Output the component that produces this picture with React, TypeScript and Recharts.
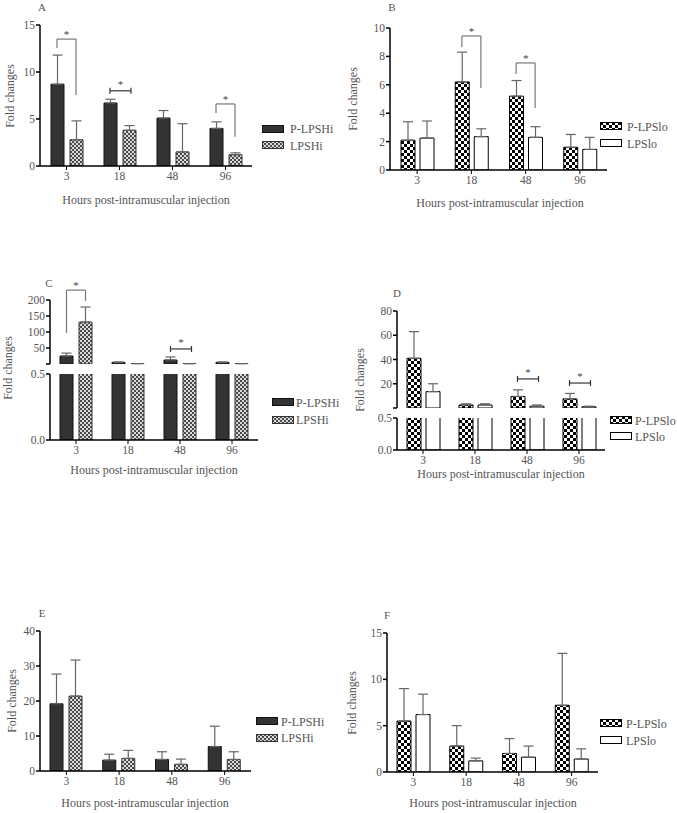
import React from 'react';
import { BarChart, Bar, XAxis, YAxis, ErrorBar, ReferenceLine } from 'recharts';

const hours = ['3', '18', '48', '96'];
const hiNames = ['P-LPSHi', 'LPSHi'];
const loNames = ['P-LPSlo', 'LPSlo'];

// A
const aP = [8.7, 6.7, 5.1, 4.0];
const aPSd = [3.1, 0.4, 0.8, 0.7];
const aL = [2.8, 3.8, 1.5, 1.2];
const aLSd = [2.0, 0.5, 3.0, 0.2];
const aTicks = [0, 5, 10, 15];

// B
const bP = [2.1, 6.2, 5.2, 1.6];
const bPSd = [1.3, 2.1, 1.1, 0.9];
const bL = [2.25, 2.35, 2.3, 1.45];
const bLSd = [1.2, 0.55, 0.75, 0.85];
const bTicks = [0, 2, 4, 6, 8, 10];

// C
const cP = [25, 5, 12.5, 5];
const cPSd = [9, 1.5, 9.5, 1.5];
const cL = [131, 1, 1, 1];
const cLSd = [47, 0.3, 0.3, 0.3];
const cTopTicks = [0, 50, 100, 150, 200];
const lowTicks = [0, 0.5];

// D
const dP = [41, 2.5, 9.5, 7.5];
const dPSd = [22, 1, 5.5, 4.5];
const dL = [13.5, 2.5, 1.5, 1];
const dLSd = [6.5, 1, 1, 0.5];
const dTopTicks = [0, 20, 40, 60, 80];

// E
const eP = [19.2, 3.1, 3.3, 7.0];
const ePSd = [8.5, 1.7, 2.2, 5.8];
const eL = [21.4, 3.6, 1.9, 3.3];
const eLSd = [10.3, 2.3, 1.5, 2.2];
const eTicks = [0, 10, 20, 30, 40];

// F
const fP = [5.5, 2.8, 2.0, 7.2];
const fPSd = [3.5, 2.2, 1.6, 5.6];
const fL = [6.2, 1.2, 1.6, 1.4];
const fLSd = [2.2, 0.3, 1.2, 1.1];
const fTicks = [0, 5, 10, 15];

// significance marks: category index, kind, bracket top, left leg end, right leg end
type Mark = { cat: number; kind: 'bracket' | 'cap'; top: number; left?: number; right?: number };
const aMarks: Mark[] = [
  { cat: 0, kind: 'bracket', top: 13.5, left: 12.55, right: 7.55 },
  { cat: 1, kind: 'cap', top: 8.0 },
  { cat: 3, kind: 'bracket', top: 6.6, left: 5.64, right: 3.1 },
];
const bMarks: Mark[] = [
  { cat: 1, kind: 'bracket', top: 9.44, left: 8.66, right: 5.77 },
  { cat: 2, kind: 'bracket', top: 7.54, left: 6.76, right: 4.37 },
];
const cMarks: Mark[] = [
  { cat: 0, kind: 'bracket', top: 231, left: 97, right: 197 },
  { cat: 2, kind: 'cap', top: 47 },
];
const dMarks: Mark[] = [
  { cat: 2, kind: 'cap', top: 24 },
  { cat: 3, kind: 'cap', top: 20.6 },
];

const FONT = '"Liberation Serif", "DejaVu Serif", serif';
const TEXT = '#555';

const STYLES: any = {
  hi: {
    p: { fill: '#333', stroke: '#111' },
    l: { fill: 'url(#patHi)', stroke: '#333' },
    names: hiNames,
    barSize: 13,
    gap: 6,
  },
  lo: {
    p: { fill: 'url(#patLo)', stroke: '#000' },
    l: { fill: '#fff', stroke: '#000' },
    names: loNames,
    barSize: 14,
    gap: 5,
  },
};

const makeRows = (p: number[], pSd: number[], l: number[], lSd: number[]) =>
  hours.map((_, i) => ({ x: i, p: p[i], pErr: [0, pSd[i]], l: l[i], lErr: [0, lSd[i]] }));

const Star = ({ x, y }: { x: number; y: number }) => (
  <text x={x} y={y - 1} textAnchor="middle" fontSize={11} fill="#444" fontFamily={FONT}>
    *
  </text>
);

const CapLine = (props: any) => {
  const { x1, y1, x2, y2 } = props;
  return (
    <g>
      <g stroke="#333" strokeWidth={1.2}>
        <line x1={x1} y1={y1} x2={x2} y2={y2} />
        <line x1={x1} y1={y1 - 3} x2={x1} y2={y1 + 3} />
        <line x1={x2} y1={y2 - 3} x2={x2} y2={y2 + 3} />
      </g>
      <Star x={(x1 + x2) / 2} y={Math.min(y1, y2) - 2} />
    </g>
  );
};

const TopLine = (props: any) => {
  const { x1, y1, x2, y2 } = props;
  return (
    <g>
      <line x1={x1} y1={y1} x2={x2} y2={y2} stroke="#777" strokeWidth={1.2} />
      <Star x={(x1 + x2) / 2} y={Math.min(y1, y2)} />
    </g>
  );
};

function Segment(props: any) {
  const { x0, x1, y0, y1, domain, ticks, fmt, rows, kind, showX, showErr, marks } = props;
  const padL = 40;
  const padT = 40;
  const padR = 6;
  const xh = showX ? 30 : 0;
  const padB = showX ? 0 : 2;
  const w = x1 - x0 + padL + padR;
  const h = padT + (y1 - y0) + xh + padB;
  const st = STYLES[kind];
  const unit = (x1 - x0) / 4;
  const off = (st.barSize + st.gap) / 2 / unit;
  const axisStyle = { stroke: '#000', strokeWidth: 1.5 };
  const tickStyle = { fontSize: 11.5, fill: TEXT, fontFamily: FONT };

  const lines = (marks || []).flatMap((m: Mark, i: number) => {
    const xl = m.cat - off;
    const xr = m.cat + off;
    if (m.kind === 'cap') {
      return [
        <ReferenceLine
          key={`c${i}`}
          segment={[{ x: xl, y: m.top }, { x: xr + 2 / unit, y: m.top }]}
          ifOverflow="visible"
          stroke="#333"
          shape={CapLine}
        />,
      ];
    }
    return [
      <ReferenceLine key={`t${i}`} segment={[{ x: xl, y: m.top }, { x: xr, y: m.top }]} ifOverflow="visible" stroke="#777" shape={TopLine} />,
      <ReferenceLine key={`l${i}`} segment={[{ x: xl, y: m.top }, { x: xl, y: m.left }]} ifOverflow="visible" stroke="#777" strokeWidth={1.2} />,
      <ReferenceLine key={`r${i}`} segment={[{ x: xr, y: m.top }, { x: xr, y: m.right }]} ifOverflow="visible" stroke="#777" strokeWidth={1.2} />,
    ];
  });

  return (
    <div style={{ position: 'absolute', left: x0 - padL, top: y0 - padT }}>
      <BarChart
        width={w}
        height={h}
        data={rows}
        margin={{ top: padT, right: padR, left: 0, bottom: padB }}
        barGap={st.gap}
        barSize={st.barSize}
      >
        <XAxis
          type="number"
          dataKey="x"
          domain={[-0.5, 3.5]}
          ticks={[0, 1, 2, 3]}
          interval={0}
          tickFormatter={(v: number) => hours[v]}
          hide={!showX}
          height={xh}
          axisLine={axisStyle}
          tickLine={{ stroke: '#000' }}
          tickSize={4}
          tick={tickStyle}
        />
        <YAxis
          domain={domain}
          ticks={ticks}
          interval={0}
          allowDataOverflow
          tickFormatter={fmt}
          width={padL}
          axisLine={axisStyle}
          tickLine={{ stroke: '#000', strokeWidth: 1.5 }}
          tickSize={4}
          tickMargin={1}
          tick={tickStyle}
        />
        <Bar dataKey="p" fill={st.p.fill} stroke={st.p.stroke} strokeWidth={1} isAnimationActive={false}>
          {showErr && <ErrorBar dataKey="pErr" width={5} stroke="#666" strokeWidth={1.2} />}
        </Bar>
        <Bar dataKey="l" fill={st.l.fill} stroke={st.l.stroke} strokeWidth={1} isAnimationActive={false}>
          {showErr && <ErrorBar dataKey="lErr" width={5} stroke="#666" strokeWidth={1.2} />}
        </Bar>
        {lines}
      </BarChart>
    </div>
  );
}

function LegendBox({ sx, textX, rows, kind }: any) {
  const st = STYLES[kind];
  const items = [st.p, st.l];
  return (
    <>
      {items.map((it: any, i: number) => (
        <React.Fragment key={i}>
          <svg width={23} height={9} style={{ position: 'absolute', left: sx, top: rows[i] - 4.5 }}>
            <rect x={0.5} y={0.5} width={21} height={7} fill={it.fill} stroke={it.stroke} />
          </svg>
          <div
            style={{
              position: 'absolute',
              left: textX,
              top: rows[i] - 8,
              height: 16,
              lineHeight: '16px',
              fontSize: 12,
              color: TEXT,
              whiteSpace: 'nowrap',
            }}
          >
            {st.names[i]}
          </div>
        </React.Fragment>
      ))}
    </>
  );
}

function Texts({ letter, letterPos, yTitle, xTitle }: any) {
  return (
    <>
      <div style={{ position: 'absolute', left: letterPos[0], top: letterPos[1], transform: 'translate(-50%,-50%)', fontSize: 11, color: TEXT }}>
        {letter}
      </div>
      <div
        style={{
          position: 'absolute',
          left: yTitle[0],
          top: yTitle[1],
          transform: 'translate(-50%,-50%) rotate(-90deg)',
          fontSize: 12,
          color: TEXT,
          whiteSpace: 'nowrap',
        }}
      >
        Fold changes
      </div>
      <div
        style={{
          position: 'absolute',
          left: xTitle[0],
          top: xTitle[1],
          transform: 'translate(-50%,-50%)',
          fontSize: 12,
          color: TEXT,
          whiteSpace: 'nowrap',
        }}
      >
        Hours post-intramuscular injection
      </div>
    </>
  );
}

const blankZero = (v: number) => (v === 0 ? '' : String(v));
const oneDec = (v: number) => v.toFixed(1);

export default function App() {
  const aRows = makeRows(aP, aPSd, aL, aLSd);
  const bRows = makeRows(bP, bPSd, bL, bLSd);
  const cRows = makeRows(cP, cPSd, cL, cLSd);
  const dRows = makeRows(dP, dPSd, dL, dLSd);
  const eRows = makeRows(eP, ePSd, eL, eLSd);
  const fRows = makeRows(fP, fPSd, fL, fLSd);

  return (
    <div style={{ position: 'absolute', left: 0, top: 0, width: 677, height: 813, background: '#fff', fontFamily: FONT, overflow: 'hidden' }}>
      <svg width={0} height={0} style={{ position: 'absolute' }}>
        <defs>
          <pattern id="patHi" width={4} height={4} patternUnits="userSpaceOnUse">
            <rect width={4} height={4} fill="#dadada" />
            <rect width={2} height={2} fill="#4a4a4a" />
            <rect x={2} y={2} width={2} height={2} fill="#4a4a4a" />
          </pattern>
          <pattern id="patLo" width={6} height={6} patternUnits="userSpaceOnUse">
            <rect width={6} height={6} fill="#fff" />
            <rect width={3} height={3} fill="#000" />
            <rect x={3} y={3} width={3} height={3} fill="#000" />
          </pattern>
        </defs>
      </svg>

      {/* A */}
      <Segment x0={40} x1={252} y0={25} y1={166} domain={[0, 15]} ticks={aTicks} rows={aRows} kind="hi" showX showErr marks={aMarks} />
      <Texts letter="A" letterPos={[42, 7]} yTitle={[10, 96]} xTitle={[146, 200]} />
      <LegendBox sx={262} textX={290} rows={[129, 145.5]} kind="hi" />

      {/* B */}
      <Segment x0={390} x1={607} y0={28} y1={170} domain={[0, 10]} ticks={bTicks} rows={bRows} kind="lo" showX showErr marks={bMarks} />
      <Texts letter="B" letterPos={[392, 7]} yTitle={[353, 99]} xTitle={[500, 203]} />
      <LegendBox sx={600} textX={627} rows={[126.5, 143.5]} kind="lo" />

      {/* C */}
      <Segment x0={50} x1={258} y0={300} y1={364} domain={[0, 200]} ticks={cTopTicks} fmt={blankZero} rows={cRows} kind="hi" showErr marks={cMarks} />
      <Segment x0={50} x1={258} y0={374} y1={440} domain={[0, 0.5]} ticks={lowTicks} fmt={oneDec} rows={cRows} kind="hi" showX />
      <Texts letter="C" letterPos={[49, 283]} yTitle={[8, 368]} xTitle={[154, 470]} />
      <LegendBox sx={272} textX={296} rows={[402.5, 420]} kind="hi" />

      {/* D */}
      <Segment x0={397} x1={605} y0={311} y1={408} domain={[0, 80]} ticks={dTopTicks} fmt={blankZero} rows={dRows} kind="lo" showErr marks={dMarks} />
      <Segment x0={397} x1={605} y0={418} y1={450} domain={[0, 0.5]} ticks={lowTicks} fmt={oneDec} rows={dRows} kind="lo" showX />
      <Texts letter="D" letterPos={[397, 293]} yTitle={[360, 380]} xTitle={[501, 474]} />
      <LegendBox sx={610} textX={635} rows={[420.5, 436.5]} kind="lo" />

      {/* E */}
      <Segment x0={40} x1={251} y0={631} y1={771} domain={[0, 40]} ticks={eTicks} rows={eRows} kind="hi" showX showErr />
      <Texts letter="E" letterPos={[42, 613]} yTitle={[12, 701]} xTitle={[145, 803]} />
      <LegendBox sx={256} textX={281} rows={[721.5, 738]} kind="hi" />

      {/* F */}
      <Segment x0={387} x1={598} y0={633} y1={772} domain={[0, 15]} ticks={fTicks} rows={fRows} kind="lo" showX showErr />
      <Texts letter="F" letterPos={[387, 615]} yTitle={[352, 703]} xTitle={[493, 803]} />
      <LegendBox sx={600} textX={626} rows={[723.5, 740.5]} kind="lo" />
    </div>
  );
}
